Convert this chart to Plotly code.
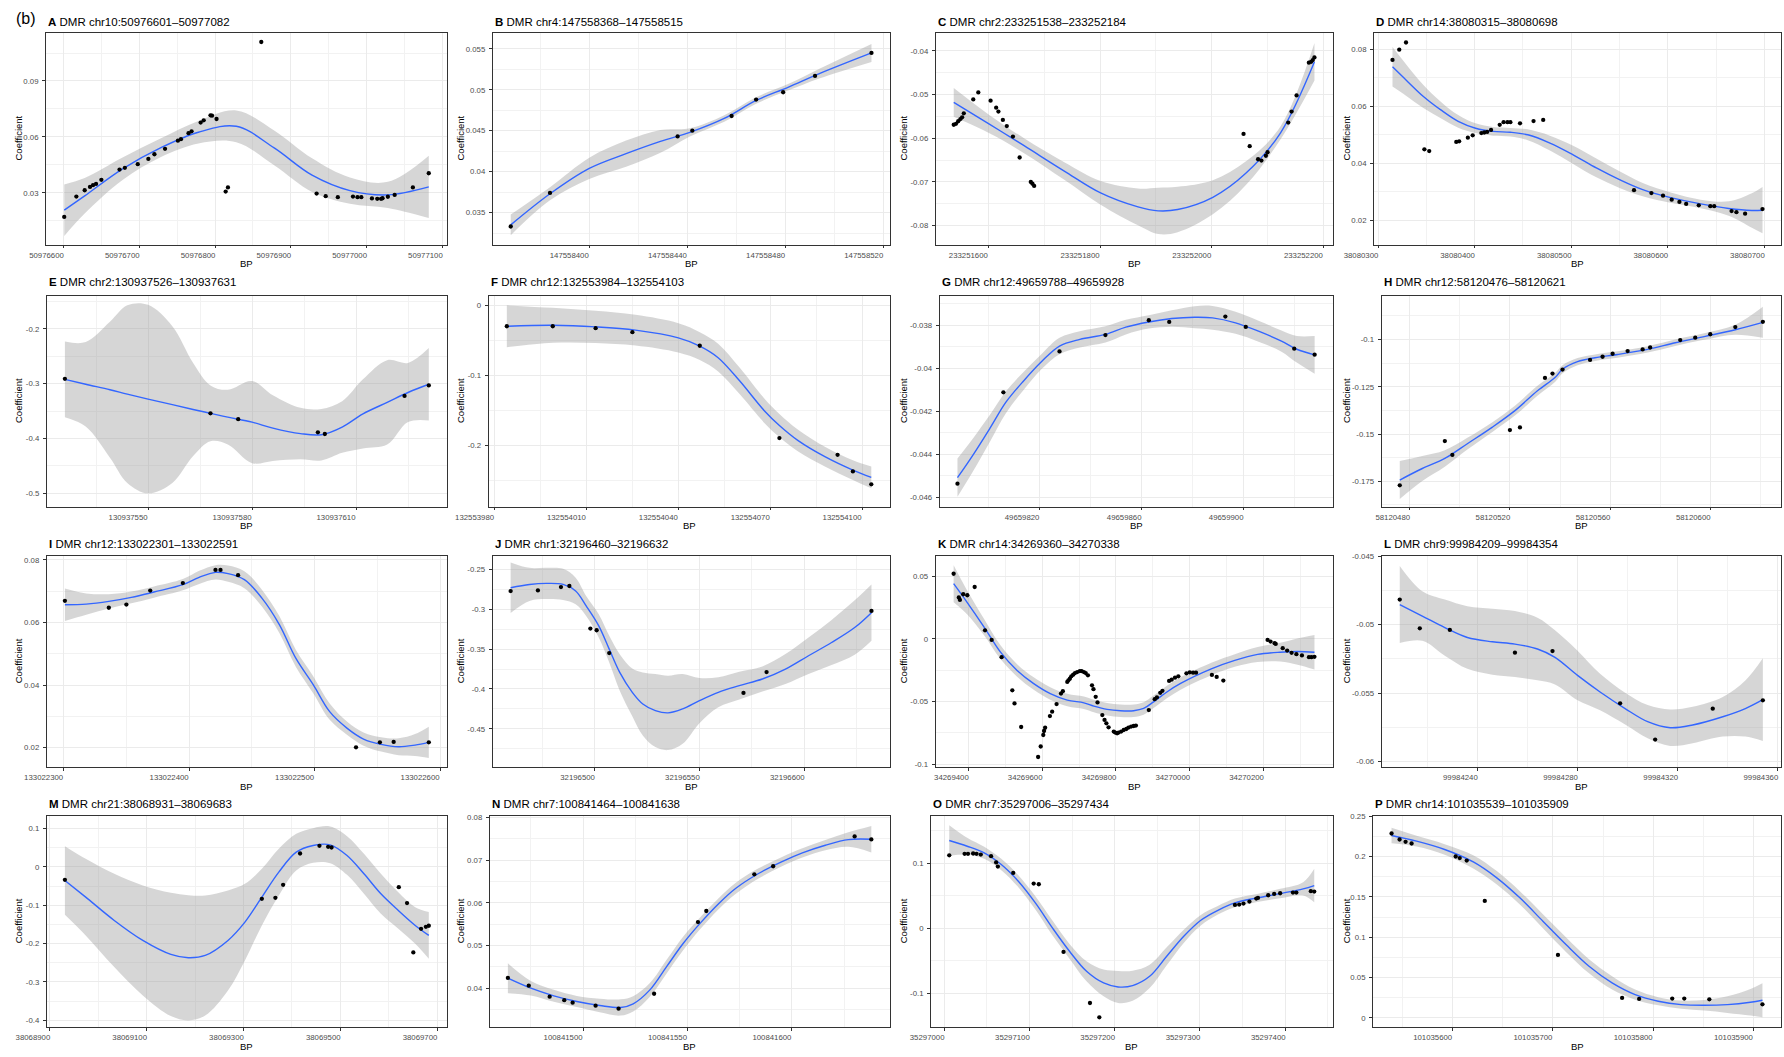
import plotly.graph_objects as go

# ---------------- data ----------------
# A
A_x = [50976601, 50976617, 50976628, 50976635, 50976639, 50976643, 50976650, 50976674, 50976681, 50976698,
       50976712, 50976720, 50976734, 50976751, 50976755, 50976765, 50976769, 50976781, 50976785, 50976794,
       50976796, 50976802, 50976814, 50976817, 50976861, 50976934, 50976946, 50976962, 50976982, 50976988,
       50976993, 50977007, 50977014, 50977019, 50977021, 50977028, 50977037, 50977061, 50977082]
A_y = [0.0171, 0.0280, 0.0314, 0.0332, 0.0341, 0.0348, 0.0370, 0.0425, 0.0434, 0.0454,
       0.0482, 0.0507, 0.0536, 0.0580, 0.0588, 0.0620, 0.0630, 0.0677, 0.0689, 0.0716,
       0.0714, 0.0696, 0.0307, 0.0329, 0.1109, 0.0296, 0.0282, 0.0277, 0.0280, 0.0277,
       0.0277, 0.0270, 0.0268, 0.0268, 0.0271, 0.0279, 0.0289, 0.0329, 0.0405]
A_sx = [50976601, 50976628, 50976678, 50976728, 50976778, 50976828, 50976878, 50976928, 50976978, 50977028, 50977082]
A_sy = [0.0207, 0.0284, 0.0429, 0.0541, 0.0625, 0.0657, 0.0541, 0.0395, 0.0312, 0.0289, 0.0332]
A_se = [0.0138, 0.0095, 0.0060, 0.0050, 0.0060, 0.0085, 0.0093, 0.0090, 0.0070, 0.0070, 0.0167]
A_xt = [50976600, 50976700, 50976800, 50976900, 50977000, 50977100]
A_yt = [0.03, 0.06, 0.09]

# B
B_x = [147558368, 147558384, 147558436, 147558442, 147558458, 147558468, 147558479, 147558492, 147558515]
B_y = [0.0333, 0.0374, 0.0443, 0.0450, 0.0468, 0.0488, 0.0497, 0.0517, 0.0545]
B_sx = [147558368, 147558384, 147558400, 147558415, 147558429, 147558441, 147558455, 147558468, 147558481, 147558494, 147558515]
B_sy = [0.0335, 0.0373, 0.0404, 0.0422, 0.0437, 0.0448, 0.0465, 0.0487, 0.0503, 0.0520, 0.0545]
B_se = [0.00126, 0.0008, 0.0013, 0.0016, 0.0014, 0.0005, 0.0004, 0.0004, 0.0004, 0.0006, 0.0011]
B_xt = [147558400, 147558440, 147558480, 147558520]
B_yt = [0.035, 0.04, 0.045, 0.05, 0.055]

# C
C_x = [233251538, 233251542, 233251546, 233251550, 233251553, 233251556, 233251573, 233251582, 233251604, 233251614,
       233251618, 233251626, 233251633, 233251644, 233251656, 233251676, 233251679, 233251682, 233252057, 233252068,
       233252083, 233252089, 233252097, 233252100, 233252137, 233252143, 233252152, 233252174, 233252178, 233252181, 233252184]
C_y = [-0.0569, -0.0567, -0.0561, -0.0556, -0.0552, -0.0543, -0.0511, -0.0495, -0.0514, -0.0530,
       -0.0539, -0.0558, -0.0572, -0.0596, -0.0644, -0.0700, -0.0704, -0.0709, -0.0590, -0.0618,
       -0.0648, -0.0651, -0.0640, -0.0632, -0.0564, -0.0539, -0.0502, -0.0427, -0.0425, -0.0421, -0.0415]
C_sx = [233251538, 233251601, 233251664, 233251736, 233251801, 233251868, 233251904, 233251939, 233252002, 233252062, 233252123, 233252184]
C_sy = [-0.0518, -0.0567, -0.0617, -0.0675, -0.0725, -0.0757, -0.0766, -0.0763, -0.0735, -0.0679, -0.0588, -0.0425]
C_se = [0.0033, 0.0021, 0.0017, 0.0020, 0.0027, 0.0042, 0.0053, 0.0052, 0.0039, 0.0027, 0.0015, 0.0043]
C_xt = [233251600, 233251800, 233252000, 233252200]
C_yt = [-0.08, -0.07, -0.06, -0.05, -0.04]

# D
D_x = [38080315, 38080322, 38080329, 38080348, 38080353, 38080381, 38080384, 38080393, 38080398, 38080407,
       38080410, 38080413, 38080417, 38080426, 38080430, 38080434, 38080437, 38080447, 38080461, 38080471,
       38080565, 38080583, 38080595, 38080604, 38080612, 38080619, 38080632, 38080644, 38080648, 38080666,
       38080671, 38080680, 38080698]
D_y = [0.0762, 0.0798, 0.0823, 0.0449, 0.0443, 0.0475, 0.0477, 0.0490, 0.0498, 0.0506,
       0.0508, 0.0510, 0.0517, 0.0535, 0.0544, 0.0544, 0.0544, 0.0540, 0.0548, 0.0552,
       0.0306, 0.0296, 0.0287, 0.0273, 0.0265, 0.0258, 0.0253, 0.0250, 0.0250, 0.0233,
       0.0229, 0.0224, 0.0240]
D_sx = [38080315, 38080329, 38080347, 38080365, 38080383, 38080401, 38080419, 38080437, 38080455, 38080478,
        38080502, 38080526, 38080550, 38080574, 38080604, 38080634, 38080663, 38080687, 38080698]
D_sy = [0.0738, 0.0692, 0.0634, 0.0587, 0.0547, 0.0523, 0.0512, 0.0509, 0.0500, 0.0471,
        0.0430, 0.0384, 0.0343, 0.0308, 0.0279, 0.0258, 0.0242, 0.0235, 0.0236]
D_se = [0.0069, 0.0055, 0.0040, 0.0029, 0.0022, 0.0017, 0.0015, 0.0015, 0.0019, 0.0026,
        0.0032, 0.0033, 0.0029, 0.0023, 0.0018, 0.0015, 0.0025, 0.0060, 0.0081]
D_xt = [38080300, 38080400, 38080500, 38080600, 38080700]
D_yt = [0.02, 0.04, 0.06, 0.08]

# E
E_x = [130937526, 130937568, 130937576, 130937599, 130937601, 130937624, 130937631]
E_y = [-0.291, -0.354, -0.3646, -0.3887, -0.3917, -0.3223, -0.303]
E_sx = [130937526, 130937532, 130937539, 130937544, 130937550, 130937557, 130937563, 130937568, 130937573,
        130937580, 130937586, 130937594, 130937600, 130937606, 130937612, 130937619, 130937625, 130937631]
E_sy = [-0.292, -0.301, -0.311, -0.319, -0.328, -0.338, -0.347, -0.354, -0.361,
        -0.370, -0.381, -0.391, -0.393, -0.379, -0.355, -0.334, -0.316, -0.301]
E_se = [0.069, 0.077, 0.124, 0.162, 0.172, 0.143, 0.085, 0.051, 0.050,
        0.075, 0.060, 0.047, 0.047, 0.047, 0.063, 0.077, 0.054, 0.066]
E_xt = [130937550, 130937580, 130937610]
E_yt = [-0.5, -0.4, -0.3, -0.2]

# F
F_x = [132553984, 132553999, 132554013, 132554025, 132554047, 132554073, 132554092, 132554097, 132554103]
F_y = [-0.0294, -0.0294, -0.0322, -0.0379, -0.0573, -0.1896, -0.2137, -0.2374, -0.2559]
F_sx = [132553984, 132553999, 132554013, 132554026, 132554040, 132554047, 132554053, 132554060, 132554068,
        132554073, 132554079, 132554088, 132554097, 132554103]
F_sy = [-0.0294, -0.0280, -0.0303, -0.0350, -0.0460, -0.0578, -0.0744, -0.1076, -0.1500,
        -0.1716, -0.1929, -0.2166, -0.2355, -0.2460]
F_se = [0.030, 0.025, 0.023, 0.022, 0.021, 0.020, 0.020, 0.019, 0.0175, 0.0166, 0.0156, 0.0142, 0.0142, 0.0156]
F_xt = [132553980, 132554010, 132554040, 132554070, 132554100]
F_yt = [-0.2, -0.1, 0]

# G
G_x = [49659788, 49659806, 49659828, 49659846, 49659863, 49659871, 49659893, 49659901, 49659920, 49659928]
G_y = [-0.04537, -0.04112, -0.03922, -0.03846, -0.03777, -0.03785, -0.0376, -0.03808, -0.03909, -0.03937]
G_sx = [49659788, 49659794, 49659801, 49659807, 49659814, 49659821, 49659828, 49659836, 49659846, 49659854,
        49659863, 49659872, 49659881, 49659888, 49659897, 49659906, 49659915, 49659921, 49659928]
G_sy = [-0.04509, -0.04405, -0.04274, -0.04158, -0.04058, -0.03969, -0.03897, -0.03866, -0.03843, -0.03809,
        -0.03785, -0.03769, -0.03763, -0.03766, -0.03789, -0.03828, -0.03874, -0.03912, -0.03938]
G_se = [0.00089, 0.00077, 0.00062, 0.00051, 0.00042, 0.00035, 0.00038, 0.00038, 0.00038, 0.00034,
        0.00031, 0.00038, 0.00051, 0.00055, 0.00051, 0.00049, 0.00049, 0.00062, 0.00088]
G_xt = [49659820, 49659860, 49659900]
G_yt = [-0.046, -0.044, -0.042, -0.04, -0.038]

# H
H_x = [58120476, 58120494, 58120497, 58120520, 58120524, 58120534, 58120537, 58120541, 58120552, 58120557,
       58120561, 58120567, 58120573, 58120576, 58120588, 58120594, 58120600, 58120610, 58120621]
H_y = [-0.1771, -0.1537, -0.1610, -0.1479, -0.1465, -0.1203, -0.1180, -0.1159, -0.1108, -0.1091,
       -0.1075, -0.1061, -0.1052, -0.1042, -0.1003, -0.0990, -0.0972, -0.0934, -0.0906]
H_sx = [58120476, 58120485, 58120494, 58120503, 58120513, 58120522, 58120531, 58120538, 58120541, 58120547,
        58120554, 58120563, 58120575, 58120586, 58120598, 58120610, 58120621]
H_sy = [-0.1743, -0.1682, -0.1629, -0.1551, -0.1463, -0.1376, -0.1271, -0.1201, -0.1157, -0.1117,
        -0.1096, -0.1079, -0.1052, -0.1017, -0.0983, -0.0948, -0.0909]
H_se = [0.0100, 0.0066, 0.0044, 0.0031, 0.0026, 0.0026, 0.0026, 0.0024, 0.0021, 0.0019,
        0.0017, 0.0017, 0.0017, 0.0017, 0.0017, 0.0026, 0.0082]
H_xt = [58120480, 58120520, 58120560, 58120600]
H_yt = [-0.175, -0.15, -0.125, -0.1]

# I
I_x = [133022301, 133022336, 133022350, 133022369, 133022395, 133022421, 133022425, 133022439,
       133022533, 133022552, 133022563, 133022591]
I_y = [0.0669, 0.0647, 0.0657, 0.0702, 0.0726, 0.0768, 0.0768, 0.0751, 0.0201, 0.0217, 0.0218, 0.0217]
I_sx = [133022301, 133022318, 133022336, 133022354, 133022372, 133022395, 133022408, 133022421, 133022431,
        133022444, 133022458, 133022472, 133022485, 133022499, 133022512, 133022526, 133022539, 133022553,
        133022567, 133022580, 133022591]
I_sy = [0.06566, 0.06587, 0.06673, 0.06801, 0.06972, 0.07207, 0.07442, 0.07602, 0.07559,
        0.07367, 0.06779, 0.05925, 0.04857, 0.04003, 0.03149, 0.02615, 0.02273, 0.02103,
        0.02028, 0.02081, 0.02167]
I_se = [0.0052, 0.0034, 0.0023, 0.0019, 0.0018, 0.0018, 0.0021, 0.0023, 0.0026,
        0.0027, 0.0027, 0.0027, 0.0027, 0.0027, 0.0026, 0.0021, 0.0021, 0.0023,
        0.0027, 0.0035, 0.0050]
I_xt = [133022300, 133022400, 133022500, 133022600]
I_yt = [0.02, 0.04, 0.06, 0.08]

# J
J_x = [32196460, 32196473, 32196484, 32196488, 32196498, 32196501, 32196507, 32196571, 32196582, 32196632]
J_y = [-0.2771, -0.2763, -0.2721, -0.2708, -0.3242, -0.3263, -0.355, -0.405, -0.3788, -0.3021]
J_sx = [32196460, 32196469, 32196477, 32196485, 32196491, 32196496, 32196502, 32196507, 32196512, 32196518,
        32196523, 32196529, 32196535, 32196542, 32196550, 32196559, 32196569, 32196580, 32196591, 32196602,
        32196613, 32196624, 32196632]
J_sy = [-0.2729, -0.2688, -0.2675, -0.2688, -0.2771, -0.2958, -0.3208, -0.3500, -0.3792, -0.4042,
        -0.4188, -0.4271, -0.4300, -0.4250, -0.4146, -0.4042, -0.3958, -0.3875, -0.3750, -0.3583,
        -0.3417, -0.3229, -0.3042]
J_se = [0.0317, 0.0208, 0.0196, 0.0196, 0.0167, 0.0125, 0.0146, 0.0167, 0.0229, 0.0300,
        0.0396, 0.0458, 0.0467, 0.0438, 0.0283, 0.0188, 0.0175, 0.0158, 0.0188, 0.0229,
        0.0283, 0.0342, 0.0354]
J_xt = [32196500, 32196550, 32196600]
J_yt = [-0.45, -0.4, -0.35, -0.3, -0.25]

# K
K_x = [34269360, 34269374, 34269377, 34269386, 34269397, 34269417, 34269445, 34269463, 34269490, 34269519,
       34269525, 34269543, 34269589, 34269596, 34269603, 34269605, 34269608, 34269621, 34269627, 34269639,
       34269651, 34269656, 34269668, 34269671, 34269675, 34269679, 34269684, 34269689, 34269695, 34269702,
       34269707, 34269713, 34269718, 34269724, 34269735, 34269739, 34269745, 34269750, 34269763, 34269769,
       34269774, 34269780, 34269794, 34269798, 34269803, 34269807, 34269814, 34269821, 34269828, 34269834,
       34269841, 34269848, 34269854, 34269889, 34269905, 34269911, 34269920, 34269926, 34269944, 34269951,
       34269960, 34269969, 34269991, 34270000, 34270009, 34270017, 34270060, 34270073, 34270091, 34270211,
       34270219, 34270230, 34270233, 34270252, 34270264, 34270276, 34270289, 34270304, 34270323, 34270330, 34270338]
K_y = [0.0521, 0.0331, 0.0312, 0.0357, 0.0349, 0.0415, 0.0069, -0.0008, -0.0146, -0.0411,
       -0.0516, -0.0704, -0.0944, -0.0860, -0.0768, -0.0736, -0.0710, -0.0617, -0.0582, -0.0521,
       -0.0437, -0.0418, -0.0344, -0.0331, -0.0318, -0.0299, -0.0286, -0.0273, -0.0265, -0.0257,
       -0.0257, -0.0265, -0.0273, -0.0291, -0.0371, -0.0402, -0.0463, -0.0508, -0.0609, -0.0648,
       -0.0675, -0.0707, -0.0741, -0.0749, -0.0754, -0.0749, -0.0741, -0.0728, -0.0720, -0.0709,
       -0.0701, -0.0696, -0.0693, -0.0569, -0.0482, -0.0468, -0.0431, -0.0415, -0.0336, -0.0326,
       -0.0310, -0.0299, -0.0275, -0.0267, -0.0270, -0.0270, -0.0288, -0.0304, -0.0333, -0.0008,
       -0.0021, -0.0034, -0.0040, -0.0074, -0.0093, -0.0111, -0.0122, -0.0132, -0.0146, -0.0146, -0.0143]
K_sx = [34269360, 34269397, 34269443, 34269487, 34269532, 34269577, 34269622, 34269668, 34269713, 34269740,
        34269776, 34269812, 34269848, 34269875, 34269902, 34269938, 34269974, 34270060, 34270122, 34270184,
        34270245, 34270292, 34270338]
K_sy = [0.0442, 0.0291, 0.0093, -0.0106, -0.0252, -0.0357, -0.0437, -0.0489, -0.0511, -0.0537,
        -0.0563, -0.0574, -0.0574, -0.0556, -0.0503, -0.0424, -0.0358, -0.0238, -0.0172, -0.0124,
        -0.0106, -0.0101, -0.0106]
K_se = [0.0148, 0.0095, 0.0065, 0.0055, 0.0050, 0.0050, 0.0050, 0.0050, 0.0050, 0.0050,
        0.0050, 0.0050, 0.0050, 0.0050, 0.0050, 0.0050, 0.0050, 0.0050, 0.0050, 0.0060,
        0.0075, 0.0105, 0.0138]
K_xt = [34269400, 34269600, 34269800, 34270000, 34270200]
K_yt = [-0.1, -0.05, 0, 0.05]

# L
L_x = [99984209, 99984217, 99984229, 99984255, 99984270, 99984297, 99984311, 99984334, 99984354]
L_y = [-0.04817, -0.05027, -0.05039, -0.05205, -0.05193, -0.05575, -0.0584, -0.05614, -0.05553]
L_sx = [99984209, 99984218, 99984227, 99984236, 99984246, 99984255, 99984264, 99984271, 99984280,
        99984289, 99984299, 99984308, 99984317, 99984326, 99984338, 99984347, 99984354]
L_sy = [-0.04853, -0.04937, -0.05022, -0.05094, -0.05125, -0.05142, -0.05178, -0.05239, -0.05371,
        -0.05492, -0.05613, -0.05709, -0.05753, -0.05733, -0.05673, -0.05613, -0.05548]
L_se = [0.00282, 0.00181, 0.00205, 0.00229, 0.00241, 0.00241, 0.00229, 0.00198, 0.00181,
        0.00133, 0.00116, 0.00121, 0.00133, 0.00133, 0.00145, 0.00205, 0.00302]
L_xt = [99984240, 99984280, 99984320, 99984360]
L_yt = [-0.06, -0.055, -0.05, -0.045]

# M
M_x = [38068931, 38069338, 38069366, 38069382, 38069417, 38069457, 38069475, 38069482, 38069621, 38069638,
       38069651, 38069667, 38069677, 38069683]
M_y = [-0.0339, -0.0834, -0.0808, -0.0469, 0.0347, 0.0547, 0.0521, 0.0503, -0.0530, -0.0946,
       -0.2231, -0.1615, -0.1563, -0.1536]
M_sx = [38068931, 38068974, 38069033, 38069092, 38069150, 38069186, 38069221, 38069268, 38069303, 38069338,
        38069373, 38069409, 38069444, 38069479, 38069514, 38069549, 38069584, 38069620, 38069655, 38069683]
M_sy = [-0.0356, -0.0790, -0.1398, -0.1918, -0.2283, -0.2370, -0.2309, -0.1918, -0.1441, -0.0790,
        -0.0139, 0.0382, 0.0556, 0.0573, 0.0295, -0.0182, -0.0703, -0.1137, -0.1528, -0.1788]
M_se = [0.0894, 0.0998, 0.1215, 0.1432, 0.1606, 0.1632, 0.1563, 0.1302, 0.0998, 0.0738,
        0.0608, 0.0477, 0.0451, 0.0477, 0.0503, 0.0521, 0.0521, 0.0477, 0.0477, 0.0608]
M_xt = [38068900, 38069100, 38069300, 38069500, 38069700]
M_yt = [-0.4, -0.3, -0.2, -0.1, 0, 0.1]

# N
N_x = [100841464, 100841474, 100841484, 100841491, 100841495, 100841506, 100841517, 100841534, 100841555,
       100841559, 100841582, 100841591, 100841630, 100841638]
N_y = [0.0424, 0.0406, 0.0380, 0.0372, 0.0366, 0.0359, 0.0352, 0.0387, 0.0555, 0.0581, 0.0667, 0.0686, 0.0756, 0.0749]
N_sx = [100841464, 100841475, 100841486, 100841497, 100841508, 100841518, 100841524, 100841532, 100841540,
        100841548, 100841556, 100841565, 100841573, 100841584, 100841595, 100841605, 100841616, 100841627, 100841638]
N_sy = [0.04234, 0.04000, 0.03821, 0.03688, 0.03595, 0.03548, 0.03634, 0.03961, 0.04507,
        0.05053, 0.05520, 0.05988, 0.06339, 0.06690, 0.06963, 0.07173, 0.07353, 0.07485, 0.07493]
N_se = [0.0035, 0.0017, 0.0014, 0.0013, 0.0016, 0.0019, 0.0018, 0.0016, 0.0016,
        0.0016, 0.0014, 0.0013, 0.0013, 0.0012, 0.0011, 0.0011, 0.0012, 0.0017, 0.0031]
N_xt = [100841500, 100841550, 100841600]
N_yt = [0.04, 0.05, 0.06, 0.07, 0.08]

# O
O_x = [35297006, 35297024, 35297028, 35297034, 35297038, 35297043, 35297055, 35297061, 35297063, 35297081,
       35297105, 35297111, 35297140, 35297171, 35297182, 35297341, 35297346, 35297351, 35297358, 35297366,
       35297368, 35297380, 35297387, 35297394, 35297409, 35297413, 35297430, 35297434]
O_y = [0.1118, 0.1141, 0.1141, 0.1146, 0.1141, 0.1130, 0.1105, 0.1010, 0.0946, 0.0849,
       0.0685, 0.0675, -0.0363, -0.1146, -0.1366, 0.0358, 0.0363, 0.0379, 0.0409, 0.0455,
       0.0465, 0.0506, 0.0527, 0.0537, 0.0547, 0.0547, 0.0568, 0.0563]
O_sx = [35297006, 35297027, 35297047, 35297067, 35297087, 35297107, 35297127, 35297147, 35297167, 35297187,
        35297204, 35297221, 35297241, 35297261, 35297281, 35297301, 35297321, 35297341, 35297367, 35297394,
        35297421, 35297434]
O_sy = [0.1345, 0.1258, 0.1156, 0.0977, 0.0721, 0.0389, 0.0005, -0.0353, -0.0660, -0.0839,
        -0.0900, -0.0880, -0.0737, -0.0430, -0.0123, 0.0123, 0.0276, 0.0389, 0.0465, 0.0532,
        0.0604, 0.0655]
O_se = [0.0235, 0.0128, 0.0092, 0.0087, 0.0092, 0.0102, 0.0113, 0.0113, 0.0153, 0.0205,
        0.0246, 0.0230, 0.0179, 0.0138, 0.0102, 0.0082, 0.0066, 0.0066, 0.0061, 0.0072,
        0.0102, 0.0256]
O_xt = [35297000, 35297100, 35297200, 35297300, 35297400]
O_yt = [-0.1, 0, 0.1]

# P
P_x = [101035539, 101035547, 101035553, 101035559, 101035603, 101035607, 101035614, 101035632, 101035705,
       101035769, 101035786, 101035819, 101035831, 101035856, 101035909]
P_y = [0.2285, 0.2211, 0.2182, 0.2161, 0.2000, 0.1980, 0.1950, 0.1450, 0.0781,
       0.0248, 0.0236, 0.0240, 0.0240, 0.0231, 0.0169]
P_sx = [101035539, 101035564, 101035592, 101035621, 101035644, 101035667, 101035690, 101035713, 101035736,
        101035759, 101035782, 101035805, 101035828, 101035851, 101035874, 101035897, 101035909]
P_sy = [0.2260, 0.2190, 0.2087, 0.1930, 0.1736, 0.1488, 0.1198, 0.0909, 0.0640,
        0.0434, 0.0289, 0.0207, 0.0165, 0.0157, 0.0165, 0.0194, 0.0219]
P_se = [0.0095, 0.0066, 0.0066, 0.0083, 0.0083, 0.0083, 0.0087, 0.0091, 0.0087,
        0.0083, 0.0062, 0.0050, 0.0050, 0.0066, 0.0103, 0.0165, 0.0211]
P_xt = [101035600, 101035700, 101035800, 101035900]
P_yt = [0, 0.05, 0.1, 0.15, 0.2, 0.25]

TITLES = {
    "A": "DMR chr10:50976601–50977082", "B": "DMR chr4:147558368–147558515",
    "C": "DMR chr2:233251538–233252184", "D": "DMR chr14:38080315–38080698",
    "E": "DMR chr2:130937526–130937631", "F": "DMR chr12:132553984–132554103",
    "G": "DMR chr12:49659788–49659928", "H": "DMR chr12:58120476–58120621",
    "I": "DMR chr12:133022301–133022591", "J": "DMR chr1:32196460–32196632",
    "K": "DMR chr14:34269360–34270338", "L": "DMR chr9:99984209–99984354",
    "M": "DMR chr21:38068931–38069683", "N": "DMR chr7:100841464–100841638",
    "O": "DMR chr7:35297006–35297434", "P": "DMR chr14:101035539–101035909",
}

# ---------------- layout (pixel boxes of each panel, y ranges) ----------------
W, H = 1784, 1057
ROWS = [(32.5, 244.5), (295.5, 506.5), (555.5, 767.0), (815.5, 1027.0)]
TITLE_Y = [22, 282, 543.5, 804]
RIGHTS = [447, 889.5, 1332.5, 1781]
YTITLE_X = [18, 460, 903, 1346]
LEFTS = {"A": 46, "B": 492.7, "C": 935.7, "D": 1374,
         "E": 46.7, "F": 488.6, "G": 939.6, "H": 1381.6,
         "I": 46.7, "J": 492.6, "K": 935.6, "L": 1381.6,
         "M": 46.7, "N": 489.7, "O": 931, "P": 1373}
YRANGE = {"A": (0.0023, 0.116), "B": (0.0311, 0.0570), "C": (-0.0843, -0.0358), "D": (0.0116, 0.0858),
          "E": (-0.524, -0.139), "F": (-0.2877, 0.0147), "G": (-0.04643, -0.03662), "H": (-0.1883, -0.0767),
          "I": (0.0138, 0.0814), "J": (-0.4979, -0.2325), "K": (-0.1024, 0.0667), "L": (-0.0604, -0.04495),
          "M": (-0.4174, 0.1337), "N": (0.0309, 0.0805), "O": (-0.1514, 0.1729), "P": (-0.0112, 0.2508)}

DATA = {k: dict(x=globals()[k + "_x"], y=globals()[k + "_y"], sx=globals()[k + "_sx"],
                sy=globals()[k + "_sy"], se=globals()[k + "_se"], xt=globals()[k + "_xt"],
                yt=globals()[k + "_yt"]) for k in "ABCDEFGHIJKLMNOP"}

FONT = "Liberation Sans, Arial, Helvetica, sans-serif"
TICK_FS = 7.8


def minor_vals(major, lo, hi):
    step = major[1] - major[0]
    vals = [m - step / 2 for m in major] + [major[-1] + step / 2]
    return [v for v in vals if lo <= v <= hi]


def fmt(v):
    s = "{:g}".format(round(v, 6))
    return "0" if s in ("-0", "0") else s


fig = go.Figure()
annotations = []
layout_axes = {}

for i, key in enumerate("ABCDEFGHIJKLMNOP"):
    n = i + 1
    row, col = divmod(i, 4)
    d = DATA[key]
    xa = "x" if n == 1 else "x%d" % n
    ya = "y" if n == 1 else "y%d" % n
    L, R = LEFTS[key], RIGHTS[col]
    T, B = ROWS[row]

    lo = [a - b for a, b in zip(d["sy"], d["se"])]
    hi = [a + b for a, b in zip(d["sy"], d["se"])]
    fig.add_trace(go.Scatter(x=d["sx"], y=lo, mode="lines", line=dict(width=0, shape="spline"),
                             hoverinfo="skip", showlegend=False, xaxis=xa, yaxis=ya))
    fig.add_trace(go.Scatter(x=d["sx"], y=hi, mode="lines", line=dict(width=0, shape="spline"),
                             fill="tonexty", fillcolor="rgba(153,153,153,0.4)",
                             hoverinfo="skip", showlegend=False, xaxis=xa, yaxis=ya))
    fig.add_trace(go.Scatter(x=d["sx"], y=d["sy"], mode="lines",
                             line=dict(color="#3366FF", width=1.4, shape="spline"),
                             showlegend=False, xaxis=xa, yaxis=ya))
    fig.add_trace(go.Scatter(x=d["x"], y=d["y"], mode="markers",
                             marker=dict(color="black", size=4.3),
                             showlegend=False, xaxis=xa, yaxis=ya))

    x0, x1 = min(d["x"]), max(d["x"])
    span = x1 - x0
    xr = [x0 - 0.05 * span, x1 + 0.05 * span]
    yr = list(YRANGE[key])

    common = dict(showline=True, mirror=True, linecolor="#333333", linewidth=0.8,
                  ticks="outside", ticklen=3, tickwidth=0.8, tickcolor="#333333",
                  showgrid=True, gridcolor="#EBEBEB", gridwidth=0.9, zeroline=False,
                  automargin=False,
                  tickfont=dict(family=FONT, size=TICK_FS, color="#4D4D4D"), tickmode="array")

    xlabels = [str(v) for v in d["xt"]]
    shift = int(round(-len(xlabels[0]) * 0.556 * TICK_FS / 2))
    layout_axes["xaxis" if n == 1 else "xaxis%d" % n] = dict(
        domain=[L / W, R / W], anchor=ya, range=xr,
        tickvals=d["xt"], ticktext=xlabels, ticklabelshift=shift, ticklabelstandoff=0,
        minor=dict(tickvals=minor_vals(d["xt"], xr[0], xr[1]), showgrid=True,
                   gridcolor="#F2F2F2", gridwidth=0.6, ticks=""),
        **common)
    layout_axes["yaxis" if n == 1 else "yaxis%d" % n] = dict(
        domain=[1 - B / H, 1 - T / H], anchor=xa, range=yr,
        tickvals=d["yt"], ticktext=[fmt(v) for v in d["yt"]], ticklabelstandoff=2,
        minor=dict(tickvals=minor_vals(d["yt"], yr[0], yr[1]), showgrid=True,
                   gridcolor="#F2F2F2", gridwidth=0.6, ticks=""),
        **common)

    annotations.append(dict(x=L / W, y=1 - TITLE_Y[row] / H, xref="paper", yref="paper",
                            xanchor="left", yanchor="middle", showarrow=False,
                            text="<b>%s</b> %s" % (key, TITLES[key]),
                            font=dict(family=FONT, size=11.5, color="black")))
    annotations.append(dict(x=YTITLE_X[col] / W, y=1 - (T + B) / 2 / H, xref="paper", yref="paper",
                            xanchor="center", yanchor="middle", showarrow=False, textangle=-90,
                            text="Coefficient", font=dict(family=FONT, size=9.5, color="black")))
    annotations.append(dict(x=(L + R) / 2 / W, y=1 - (B + 19) / H, xref="paper", yref="paper",
                            xanchor="center", yanchor="middle", showarrow=False,
                            text="BP", font=dict(family=FONT, size=9.5, color="black")))

annotations.append(dict(x=14 / W, y=1 - 18.5 / H, xref="paper", yref="paper", xanchor="left",
                        yanchor="middle", showarrow=False, text="(b)",
                        font=dict(family=FONT, size=16, color="black")))

fig.update_layout(width=W, height=H, autosize=False,
                  margin=dict(l=0, r=0, t=0, b=0, autoexpand=False),
                  paper_bgcolor="white", plot_bgcolor="white", showlegend=False,
                  annotations=annotations, **layout_axes)

fig.write_html("out.html", config={"responsive": False, "displayModeBar": False},
               post_script="document.body.style.margin='0px';document.body.style.overflow='hidden';")
